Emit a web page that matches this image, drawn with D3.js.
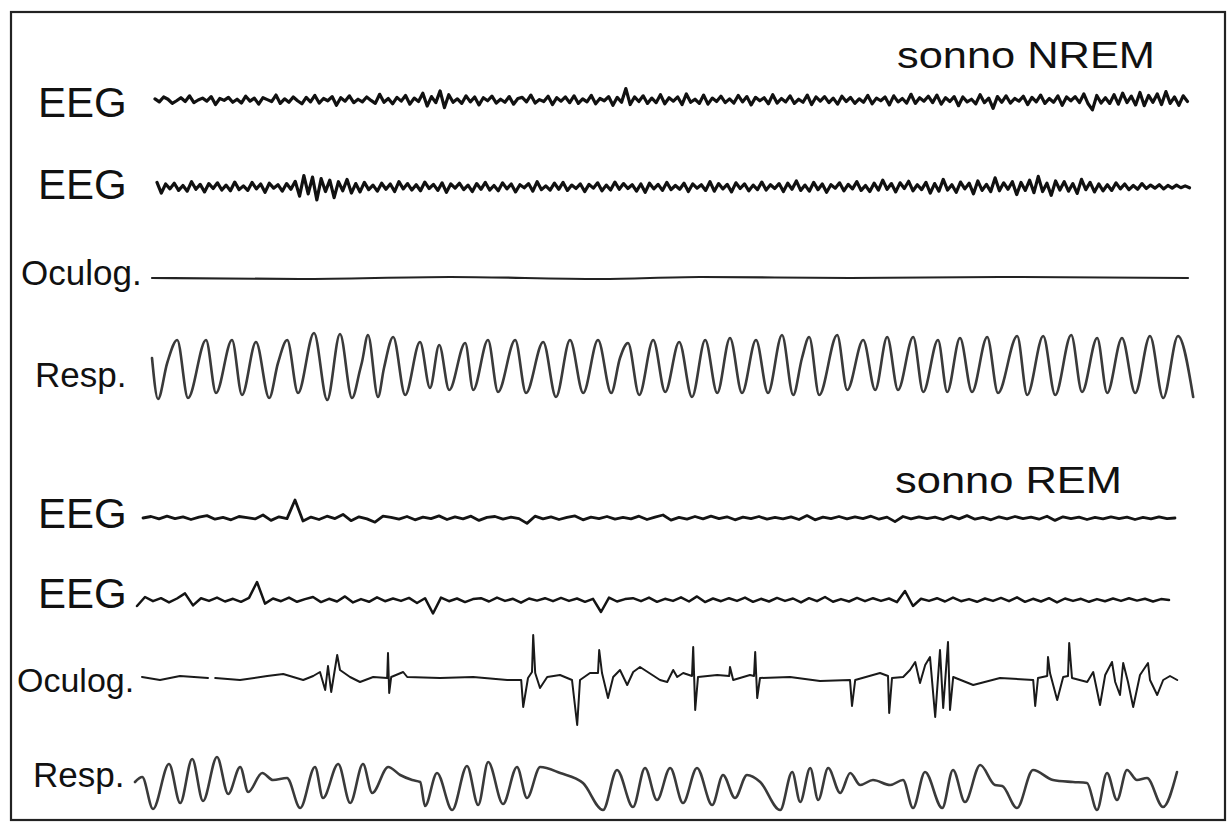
<html>
<head>
<style type="text/css">
	body { margin: 0; background: white; }
	.chart text { fill: #111; font-family: "Liberation Sans", Arial, sans-serif; }
	.chart path.trace { fill: none; stroke-linejoin: round; stroke-linecap: round; }
</style>
</head>
<body>
<svg class="chart" width="1232" height="823"></svg>
<script src="https://d3js.org/d3.v7.min.js"></script>
<script>
// ---- data (time in s, amplitude in uV / arbitrary units) ----

// EEG samples, equally spaced
var eegNremDt = 0.108;
var eegRemDt = 0.2;

var eegNrem1 = [3,-5,8,2,-9,-2,6,-4,11,-7,0,5,-3,9,-12,4,-1,7,-6,2,
	-8,10,-3,5,-11,6,1,-4,13,-9,3,-6,8,-2,-10,7,-5,12,-8,4,
	-2,9,-14,6,-3,11,-7,2,-5,8,-1,-9,15,-6,4,-10,7,-3,12,-11,
	5,-4,18,-16,9,-7,24,-20,14,-6,3,-9,11,-5,8,-13,6,-2,10,-8,
	2,-6,9,-11,4,7,-5,13,-8,1,-4,10,-12,6,-3,8,-7,11,-9,3,
	-5,12,-10,4,-2,9,-14,7,-6,30,-12,8,-4,11,-9,5,-7,14,-10,6,
	-3,8,-12,16,-6,2,-9,13,-11,5,-4,10,-7,3,-8,12,-5,9,-13,7,
	-2,6,-10,14,-8,4,-5,11,-9,2,-6,13,-12,8,-3,9,-7,5,-11,10,
	-4,7,-9,3,-6,12,-10,5,-2,8,-13,11,-5,4,-8,15,-9,6,-3,10,
	-7,13,-11,6,-4,9,-15,8,-5,2,-10,14,-7,5,-22,9,-6,11,-8,4,
	-3,10,-12,7,-5,13,-9,4,-6,11,-14,8,-2,9,-7,16,-10,-26,12,-8,
	6,-9,14,-11,18,-7,10,-13,20,-15,12,-6,16,-12,22,-9,8,-14,11,-4];

var eegNrem2 = [12,-16,8,-5,10,-9,4,-11,14,-6,7,-13,9,-4,11,-8,5,-10,13,-7,
	3,-9,12,-5,8,-14,10,-3,6,-11,9,-6,15,-24,30,-18,26,-34,22,-12,
	18,-28,14,-10,20,-16,9,-13,12,-7,5,-11,10,-6,8,-12,14,-5,9,-8,
	6,-10,13,-4,7,-9,11,-14,8,-3,10,-7,5,-12,9,-6,12,-8,4,-10,
	11,-5,8,-13,6,-2,9,-11,14,-7,3,-8,10,-6,12,-9,5,-4,8,-12,
	7,-3,11,-10,5,-8,13,-6,9,-4,6,-11,8,-14,10,-5,7,-9,12,-7,
	4,-6,10,-12,8,-3,6,-9,14,-11,9,-5,7,-13,11,-4,8,-10,5,-7,
	13,-8,6,-4,9,-12,10,-6,16,-9,5,-11,12,-7,8,-14,6,-3,11,-10,
	7,-5,14,-9,4,-12,10,-8,18,-6,9,-13,11,-4,15,-10,6,-7,12,-16,
	9,-11,20,-8,6,-14,13,-5,10,-18,16,-9,7,-12,24,-10,11,-6,14,-20,
	12,-9,18,-15,28,-12,10,-22,16,-8,14,-11,9,-17,20,-7,12,-13,8,-10,
	6,-9,11,-5,8,-7,4,-6,9,-4,5,-3,6,-5,4,-3,5,-2,3,-2];

var eegRem1 = [0,5,-3,6,-2,4,-5,3,8,-4,2,-6,5,1,-3,10,-8,4,-2,60,
	-10,3,-5,6,-2,12,-9,4,-3,-14,6,2,-4,5,-6,3,-2,7,-5,4,
	-3,6,-8,2,5,-4,3,-2,-18,6,-3,4,-5,2,7,-6,3,-2,5,-4,
	2,-3,6,-5,3,10,-7,2,-4,5,-3,6,-2,4,-6,3,-2,5,-4,2,
	-3,4,-5,8,-6,3,-2,5,-3,4,-2,6,-4,3,-12,5,-3,4,-2,3,
	-5,6,-3,8,-4,2,-6,4,-3,5,-2,3,-4,6,-8,4,-2,3,-5,2,
	-3,4,-2,3,-5,2,-3,4,-2,0];

var eegRem2 = [-20,10,-4,6,-8,5,22,-18,6,-3,8,-5,4,-6,7,60,-12,5,-4,8,
	-6,3,10,-7,4,-5,12,-8,3,-6,9,-4,5,-3,7,-10,6,-45,8,-4,
	5,-7,3,6,-5,8,-3,4,-9,5,-2,6,-4,7,-3,5,-6,4,-40,8,
	-5,3,6,-4,8,-6,4,-3,9,-5,12,-7,5,-4,6,-3,8,-6,4,-5,
	7,-3,5,-8,6,-4,10,-6,3,-5,7,-4,6,-3,5,-7,30,-20,4,-3,
	6,-5,8,-4,3,-6,5,-3,7,-4,9,-6,4,-5,6,-8,5,-3,4,-6,
	3,-4,5,-3,6,-2,4,-5,3,0];

// oculogram [time, value]
var eogNrem = [[0,0],[3.7,-1],[7.45,1],[11.2,-1],[13.7,1],[17.45,0],[21.2,1],[25.9,0]];

var eogRem = [[0,0],[0.45,-3],[0.95,1],[1.65,-1],[1.74,null],[1.83,-1],[2.45,-3],[3.13,1],[3.53,3],
	[4.03,-3],[4.28,1],[4.45,5],[4.58,-13],[4.65,11],[4.73,-15],[4.88,22],[4.95,7],[5.2,0],
	[5.45,-5],[5.78,0],[6.13,-1],[6.15,24],[6.18,-16],[6.23,0],[6.53,5],[6.63,0],[7.45,-1],
	[8.28,0],[9.13,-3],[9.48,-3],[9.53,-30],[9.65,-1],[9.75,5],[9.78,42],[9.83,4],[9.95,-11],
	[10.13,0],[10.45,2],[10.75,-3],[10.88,-48],[10.95,-3],[11.2,4],[11.4,4],[11.43,27],[11.5,4],
	[11.65,-21],[11.78,0],[11.95,7],[12.13,-8],[12.28,5],[12.45,10],[12.95,-3],[13.13,-5],
	[13.28,7],[13.38,0],[13.53,4],[13.75,1],[13.78,30],[13.83,-33],[13.9,0],[14.38,2],[14.68,1],
	[14.7,10],[14.78,-3],[15.2,2],[15.3,1],[15.33,25],[15.38,-21],[15.45,-1],[16.2,0],[16.95,-4],
	[17.7,-3],[17.75,-29],[17.83,-3],[18.45,4],[18.65,1],[18.68,-36],[18.75,-1],[19.03,0],
	[19.2,7],[19.33,15],[19.45,-6],[19.58,12],[19.7,20],[19.83,-40],[19.95,27],[20.03,-31],
	[20.15,35],[20.2,-33],[20.28,0],[20.78,-8],[21.45,-1],[22.28,-3],[22.33,-29],[22.4,-1],
	[22.63,1],[22.65,20],[22.7,4],[22.88,-23],[23.03,0],[23.15,1],[23.18,34],[23.25,-1],
	[23.63,-5],[23.78,5],[23.95,-28],[24.08,2],[24.25,15],[24.33,-5],[24.45,-18],[24.53,14],
	[24.65,-5],[24.78,-30],[24.95,2],[25.15,14],[25.2,-3],[25.38,-18],[25.53,-3],[25.7,1],[25.88,-3]];

// respiration [time, value], turning points
var respNrem = [[0,9],[0.15,-32],[0.38,4],[0.63,27],[0.9,-31],[1.35,27],[1.6,-26],[2.0,27],[2.25,-28],
	[2.6,25],[2.93,-31],[3.15,4],[3.38,27],[3.65,-26],[4.05,34],[4.38,-33],[4.7,33],[5.0,-31],
	[5.2,-3],[5.25,5],[5.4,32],[5.65,-30],[5.8,-1],[6.03,30],[6.33,-28],[6.7,25],[6.95,-21],
	[7.18,22],[7.43,-23],[7.83,24],[8.03,-23],[8.4,27],[8.65,-25],[9.08,27],[9.35,-26],[9.78,25],
	[10.1,-30],[10.45,27],[10.78,-26],[11.15,27],[11.48,-26],[11.7,9],[11.9,24],[12.18,-28],
	[12.53,27],[12.83,-25],[13.18,25],[13.5,-30],[13.83,27],[14.13,-26],[14.45,29],[14.75,-26],
	[15.1,27],[15.4,-26],[15.75,32],[16.03,-28],[16.25,9],[16.43,30],[16.68,-28],[17.13,32],
	[17.38,-23],[17.78,27],[18.08,-23],[18.38,30],[18.65,-23],[19.03,30],[19.28,-25],[19.65,27],
	[19.88,-25],[20.2,29],[20.5,-25],[20.88,30],[21.15,-26],[21.63,31],[21.88,-28],[22.28,31],
	[22.58,-28],[22.98,32],[23.25,-25],[23.63,29],[23.88,-26],[24.25,29],[24.58,-26],[24.95,31],
	[25.28,-31],[25.65,31],[26.03,-30]];

var respRem = [[0,3],[0.18,8],[0.45,-24],[0.85,21],[1.13,-18],[1.43,26],[1.7,-16],[2.05,28],
	[2.33,-9],[2.63,18],[2.83,-7],[3.18,12],[3.45,5],[3.8,7],[4.13,-23],[4.5,18],[4.7,-13],
	[5.08,21],[5.38,-18],[5.7,21],[5.93,-8],[6.33,18],[6.63,10],[6.93,5],[7.13,3],[7.25,-21],
	[7.55,12],[7.93,-25],[8.3,19],[8.58,-20],[8.83,23],[9.2,-19],[9.55,18],[9.8,-13],[10.13,18],
	[10.63,12],[11.2,2],[11.7,-25],[12.05,15],[12.45,-22],[12.75,17],[13.05,-15],[13.38,17],
	[13.7,-18],[14.05,17],[14.43,-20],[14.7,10],[15.0,-13],[15.3,10],[15.63,3],[16.13,-25],
	[16.43,13],[16.63,-17],[16.88,17],[17.08,-15],[17.33,17],[17.63,-8],[17.88,12],[18.13,0],
	[18.45,5],[18.88,0],[19.2,5],[19.45,-23],[19.75,13],[20.18,-23],[20.45,15],[20.75,-17],
	[21.13,20],[21.5,0],[21.68,-1],[22.05,-23],[22.45,15],[22.95,5],[23.45,3],[23.8,2],
	[24.05,-25],[24.3,12],[24.55,-15],[24.8,15],[25.05,5],[25.3,7],[25.7,-22],[26.05,13]];

// text
var stageLabels = ["sonno NREM", "sonno REM"];
var channelLabels = ["EEG", "EEG", "Oculog.", "Resp.", "EEG", "EEG", "Oculog.", "Resp."];

// ---- drawing ----
var svg = d3.select("svg");

svg.append("rect")
	.attr("x", 0).attr("y", 0)
	.attr("width", 1232).attr("height", 823)
	.attr("fill", "white");

svg.append("rect")
	.attr("x", 11).attr("y", 12)
	.attr("width", 1214).attr("height", 808)
	.attr("fill", "none")
	.attr("stroke", "#222")
	.attr("stroke-width", 2.2);

// paper speed: 40 px per second
var timeScale = d3.scaleLinear().domain([0, 26]).range([0, 1040]);

function samples(values, dt) {
	return values.map(function(v, i) { return [i * dt, v]; });
}

// one entry per channel: layout only
var traces = [
	{data: samples(eegNrem1, eegNremDt), x0: 155, cy: 100, k: 0.38, curve: d3.curveLinear, w: 3.2, col: "#111"},
	{data: samples(eegNrem2, eegNremDt), x0: 157, cy: 187, k: 0.38, curve: d3.curveLinear, w: 3.2, col: "#111"},
	{data: eogNrem, x0: 152, cy: 278, k: 1, curve: d3.curveMonotoneX, w: 2.2, col: "#222"},
	{data: respNrem, x0: 152, cy: 367, k: 1, curve: d3.curveMonotoneX, w: 2.6, col: "#3a3a3a"},
	{data: samples(eegRem1, eegRemDt), x0: 143, cy: 518, k: 0.3, curve: d3.curveLinear, w: 2.8, col: "#141414"},
	{data: samples(eegRem2, eegRemDt), x0: 137, cy: 600, k: 0.3, curve: d3.curveLinear, w: 2.5, col: "#141414"},
	{data: eogRem, x0: 142, cy: 677, k: 1, curve: d3.curveLinear, w: 2, col: "#1a1a1a"},
	{data: respRem, x0: 135, cy: 785, k: 1, curve: d3.curveMonotoneX, w: 2.6, col: "#3a3a3a"}
];

traces.forEach(function(tr) {
	var yScale = d3.scaleLinear()
		.domain([-100, 100])
		.range([tr.cy + 100 * tr.k, tr.cy - 100 * tr.k]);

	var line = d3.line()
		.defined(function(d) { return d[1] !== null; })
		.x(function(d) { return tr.x0 + timeScale(d[0]); })
		.y(function(d) { return yScale(d[1]); })
		.curve(tr.curve);

	svg.append("path")
		.attr("class", "trace")
		.attr("d", line(tr.data))
		.attr("stroke", tr.col)
		.attr("stroke-width", tr.w);
});

// channel labels
var labelPos = [
	{x: 38, y: 117, size: 42},
	{x: 38, y: 199, size: 42},
	{x: 21, y: 285, size: 35},
	{x: 35, y: 387, size: 35},
	{x: 38, y: 528, size: 42},
	{x: 38, y: 608, size: 42},
	{x: 17, y: 692, size: 34},
	{x: 33, y: 787, size: 35}
];

svg.selectAll("text.channel")
	.data(channelLabels)
	.enter()
	.append("text")
	.attr("class", "channel")
	.attr("x", function(d, i) { return labelPos[i].x; })
	.attr("y", function(d, i) { return labelPos[i].y; })
	.style("font-size", function(d, i) { return labelPos[i].size + "px"; })
	.text(function(d) { return d; });

// stage titles
var stagePos = [
	{x: 897, y: 68, len: 258},
	{x: 895, y: 493, len: 227}
];

svg.selectAll("text.stage")
	.data(stageLabels)
	.enter()
	.append("text")
	.attr("class", "stage")
	.attr("x", function(d, i) { return stagePos[i].x; })
	.attr("y", function(d, i) { return stagePos[i].y; })
	.attr("textLength", function(d, i) { return stagePos[i].len; })
	.attr("lengthAdjust", "spacingAndGlyphs")
	.style("font-size", "37px")
	.text(function(d) { return d; });
</script>
</body>
</html>
